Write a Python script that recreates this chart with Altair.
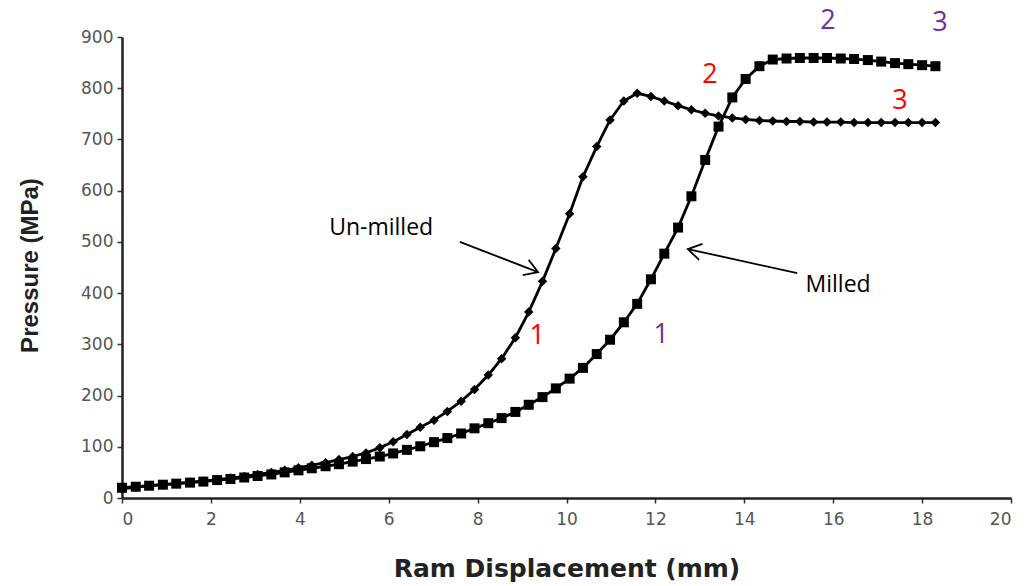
import altair as alt
import pandas as pd

# Ram displacement (mm) at each recorded point
x_mm = [0.00, 0.31, 0.61, 0.92, 1.22, 1.53, 1.83, 2.14, 2.44, 2.75,
        3.05, 3.36, 3.66, 3.97, 4.27, 4.58, 4.88, 5.19, 5.49, 5.80,
        6.10, 6.41, 6.71, 7.02, 7.32, 7.63, 7.93, 8.24, 8.54, 8.85,
        9.15, 9.46, 9.76, 10.07, 10.37, 10.68, 10.98, 11.29, 11.59, 11.90,
        12.20, 12.51, 12.81, 13.12, 13.42, 13.73, 14.03, 14.34, 14.64, 14.95,
        15.25, 15.56, 15.86, 16.17, 16.47, 16.78, 17.08, 17.39, 17.69, 18.00,
        18.30]

# Pressure (MPa), un-milled powder
unmilled = [18, 21, 24, 26, 28, 31, 33, 36, 39, 42,
            46, 50, 54, 59, 64, 69, 75, 81, 88, 98,
            110, 124, 138, 152, 169, 189, 212, 240, 272, 313,
            363, 423, 487, 555, 627, 686, 738, 775, 790, 784,
            775, 766, 758, 751, 746, 742, 739, 737, 736, 735,
            735, 734, 734, 734, 733, 733, 733, 733, 733, 733,
            733]

# Pressure (MPa), milled powder
milled = [20, 22, 24, 26, 28, 30, 32, 35, 37, 40,
          43, 46, 50, 54, 58, 62, 66, 71, 76, 81,
          87, 94, 101, 109, 117, 126, 136, 146, 156, 168,
          182, 197, 214, 233, 254, 281, 309, 343, 379, 427,
          477, 528, 589, 660, 725, 782, 818, 843, 856, 858,
          859, 859, 859, 858, 857, 855, 852, 849, 847, 845,
          843]

# Stage numbers written next to the curves
stage_text = ["1", "2", "3", "1", "2", "3"]
stage_x = [9.34, 13.23, 17.50, 12.13, 15.88, 18.40]
stage_y = [316, 826, 775, 318, 932, 928]
stage_color = ["#ff0000", "#ff0000", "#ff0000", "#7030a0", "#7030a0", "#7030a0"]

# Curve labels and their arrows (tail -> tip)
label_text = ["Un-milled", "Milled"]
label_x = [5.83, 16.11]
label_y = [527, 416]
arrow_x = [7.60, 15.19]
arrow_y = [500, 439]
arrow_tip_x = [9.36, 12.73]
arrow_tip_y = [441, 486]
arrow_angle = [21, 192]

curves = pd.DataFrame({
    "x": x_mm * 2,
    "p": unmilled + milled,
    "sample": ["Un-milled"] * len(x_mm) + ["Milled"] * len(x_mm),
})
stages = pd.DataFrame({"t": stage_text, "x": stage_x, "y": stage_y, "c": stage_color})
labels = pd.DataFrame({"t": label_text, "x": label_x, "y": label_y})
arrows = pd.DataFrame({"x": arrow_x, "y": arrow_y, "x2": arrow_tip_x,
                       "y2": arrow_tip_y, "a": arrow_angle})

x_scale = alt.Scale(domain=[0, 20], nice=False)
y_scale = alt.Scale(domain=[0, 900], nice=False)

x_enc = alt.X("x:Q", scale=x_scale, axis=alt.Axis(
    title="Ram Displacement (mm)", values=list(range(0, 21, 2)), grid=False,
    titleY=78, titleBaseline="alphabetic", titleFontSize=25))
y_enc = alt.Y("p:Q", scale=y_scale, axis=alt.Axis(
    title="Pressure (MPa)", values=list(range(0, 901, 100)), grid=False,
    titleX=-85, titleY=228, titleBaseline="alphabetic", titleAngle=-90,
    titleFont="Liberation Sans", titleFontSize=24))

lines = alt.Chart(curves).mark_line(color="black", strokeWidth=2.8).encode(
    x=x_enc, y=y_enc, detail="sample:N")

un_pts = alt.Chart(curves).transform_filter(alt.datum.sample == "Un-milled").mark_point(
    shape="diamond", filled=True, color="black", size=90, opacity=1).encode(
    x="x:Q", y="p:Q")
mi_pts = alt.Chart(curves).transform_filter(alt.datum.sample == "Milled").mark_point(
    shape="square", filled=True, color="black", size=100, opacity=1).encode(
    x="x:Q", y="p:Q")

stage_marks = alt.Chart(stages).mark_text(
    font="Open Sans", fontSize=27, align="center", baseline="middle").encode(
    x="x:Q", y=alt.Y("y:Q", scale=y_scale), text="t:N",
    color=alt.Color("c:N", scale=None))

label_marks = alt.Chart(labels).mark_text(
    font="Open Sans", fontSize=23, align="center", baseline="middle", color="black").encode(
    x="x:Q", y=alt.Y("y:Q", scale=y_scale), text="t:N")

shafts = alt.Chart(arrows).mark_rule(color="black", strokeWidth=1.8).encode(
    x="x:Q", y=alt.Y("y:Q", scale=y_scale), x2="x2:Q", y2="y2:Q")

heads = alt.Chart(arrows).mark_point(
    shape="M-1,-0.62L0,0L-1,0.62", filled=False, color="black",
    strokeWidth=1.8, size=700, opacity=1).encode(
    x="x2:Q", y=alt.Y("y2:Q", scale=y_scale), angle=alt.Angle("a:Q", scale=None))

chart = alt.layer(lines, un_pts, mi_pts, shafts, heads, label_marks, stage_marks).properties(
    width=889, height=461, autosize="none",
    padding={"left": 122, "top": 37, "right": 18, "bottom": 88},
    background="white",
).configure_view(stroke=None).configure_axis(
    domainColor="#222", domainWidth=2.5, tickColor="#333", tickWidth=1.5, tickSize=5,
    labelFont="DejaVu Sans", labelFontSize=17, labelColor="#555", labelPadding=8,
    titleFont="DejaVu Sans", titleFontSize=24, titleFontWeight="bold", titleColor="#222",
).configure_axisY(labelPadding=4)

chart.save("out.html", embed_options={"renderer": "svg", "actions": False})
